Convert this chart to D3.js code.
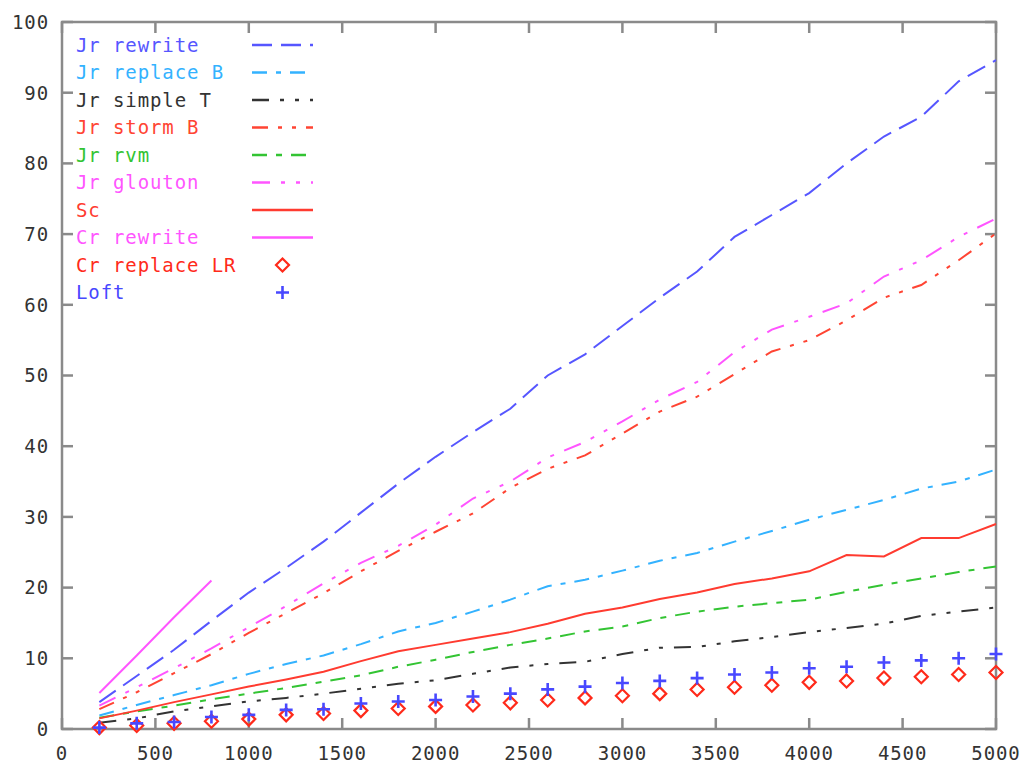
<!DOCTYPE html>
<html>
<head>
<meta charset="utf-8">
<script src="https://cdn.jsdelivr.net/npm/d3@7"></script>
<style>
  body { margin: 0; background: #fff; }
  svg text { font-family: "DejaVu Sans Mono", monospace; font-size: 19px; letter-spacing: 0.9px; }
</style>
</head>
<body>
<svg id="chart" width="1026" height="765"></svg>
<script>
// x values (same for every series except Cr rewrite)
const sizes = [200,400,600,800,1000,1200,1400,1600,1800,2000,2200,2400,2600,2800,3000,3200,3400,3600,3800,4000,4200,4400,4600,4800,5000];
const crSizes = [200,400,600,800];

const jrRewrite  = [3.8,7.5,11.2,15.3,19.3,22.8,26.5,30.6,34.7,38.5,42.0,45.3,50.0,53.0,57.0,61.0,64.7,69.6,72.7,75.8,80.0,83.8,86.6,91.6,94.6];
const jrReplaceB = [1.9,3.4,4.8,6.2,7.8,9.2,10.4,12.0,13.8,15.0,16.6,18.3,20.2,21.1,22.4,23.8,24.9,26.5,28.0,29.6,31.0,32.4,34.0,35.0,36.7];
const jrSimpleT  = [0.9,1.5,2.5,3.2,3.9,4.4,5.0,5.7,6.4,6.9,7.8,8.7,9.2,9.5,10.6,11.5,11.6,12.4,13.0,13.7,14.3,14.9,16.0,16.6,17.2];
const jrStormB   = [2.8,5.2,7.9,10.6,13.6,16.4,19.2,22.3,25.2,27.9,30.5,34.1,36.8,38.7,41.8,44.9,47.0,50.2,53.4,55.0,57.8,61.0,62.8,66.3,70.1];
const jrRvm      = [1.6,2.5,3.3,4.2,5.0,5.8,6.7,7.6,8.8,9.8,10.9,11.9,12.8,13.8,14.5,15.7,16.6,17.3,17.8,18.3,19.4,20.4,21.3,22.2,23.0];
const jrGlouton  = [3.3,5.9,8.6,11.4,14.4,17.4,20.6,23.5,25.9,28.9,32.6,35.0,38.4,40.6,43.5,46.6,49.1,53.3,56.5,58.3,60.2,64.0,66.3,69.6,72.2];
const sc         = [1.5,2.6,3.8,4.9,6.0,7.0,8.1,9.6,11.0,11.9,12.8,13.7,14.9,16.3,17.2,18.4,19.3,20.5,21.3,22.3,24.6,24.4,27.0,27.0,29.0];
const crRewrite  = [5.1,10.4,15.8,21.0];
const crReplaceLR = [0.2,0.5,0.8,1.1,1.4,2.0,2.2,2.6,2.9,3.2,3.4,3.7,4.1,4.4,4.7,5.0,5.6,5.9,6.2,6.6,6.8,7.2,7.4,7.7,8.0];
const loft       = [0.2,0.8,1.0,1.7,2.0,2.7,2.8,3.6,3.9,4.1,4.6,5.0,5.6,6.0,6.5,6.8,7.2,7.7,8.0,8.6,8.8,9.4,9.7,10.0,10.6];

const xTicks = [0,500,1000,1500,2000,2500,3000,3500,4000,4500,5000];
const yTicks = [0,10,20,30,40,50,60,70,80,90,100];

const lineSeries = [
  {name: "Jr rewrite",   xs: sizes,   ys: jrRewrite,  color: "#5656ff", dash: "20,9"},
  {name: "Jr replace B", xs: sizes,   ys: jrReplaceB, color: "#33b2ff", dash: "15,9,5,9"},
  {name: "Jr simple T",  xs: sizes,   ys: jrSimpleT,  color: "#333333", dash: "17,11,4,11,4,11"},
  {name: "Jr storm B",   xs: sizes,   ys: jrStormB,   color: "#ff4433", dash: "16,10,4,10,4,10"},
  {name: "Jr rvm",       xs: sizes,   ys: jrRvm,      color: "#33c433", dash: "15,9,6,9"},
  {name: "Jr glouton",   xs: sizes,   ys: jrGlouton,  color: "#ff55ff", dash: "18,11,4,11,4,11"},
  {name: "Sc",           xs: sizes,   ys: sc,         color: "#ff3b30", dash: null},
  {name: "Cr rewrite",   xs: crSizes, ys: crRewrite,  color: "#ff55ff", dash: null}
];
const pointSeries = [
  {name: "Cr replace LR", xs: sizes, ys: crReplaceLR, color: "#ff2a1a", shape: "diamond"},
  {name: "Loft",          xs: sizes, ys: loft,        color: "#4848ff", shape: "plus"}
];

const svg = d3.select("#chart");
const plotL = 62, plotR = 996, plotT = 22, plotB = 729;

const x = d3.scaleLinear().domain([0, 5000]).range([plotL, plotR]);
const y = d3.scaleLinear().domain([0, 100]).range([plotB, plotT]);

const axisColor = "#8a8a8a";
const tickLen = 11;

// ticks (mirrored on all four sides)
const tk = svg.append("g").attr("stroke", axisColor).attr("stroke-width", 2.5);
xTicks.forEach(t => {
  tk.append("line").attr("x1", x(t)).attr("x2", x(t)).attr("y1", plotB).attr("y2", plotB - tickLen);
  tk.append("line").attr("x1", x(t)).attr("x2", x(t)).attr("y1", plotT).attr("y2", plotT + tickLen);
});
yTicks.forEach(t => {
  tk.append("line").attr("x1", plotL).attr("x2", plotL + tickLen).attr("y1", y(t)).attr("y2", y(t));
  tk.append("line").attr("x1", plotR).attr("x2", plotR - tickLen).attr("y1", y(t)).attr("y2", y(t));
});

svg.append("rect")
  .attr("x", plotL).attr("y", plotT)
  .attr("width", plotR - plotL).attr("height", plotB - plotT)
  .attr("fill", "none").attr("stroke", axisColor).attr("stroke-width", 2.5);

// tick labels
svg.append("g").selectAll("text").data(xTicks).join("text")
  .attr("x", d => x(d)).attr("y", plotB + 31)
  .attr("text-anchor", "middle").attr("fill", "#333")
  .text(d => d);
svg.append("g").selectAll("text").data(yTicks).join("text")
  .attr("x", plotL - 13).attr("y", d => y(d)).attr("dy", "0.36em")
  .attr("text-anchor", "end").attr("fill", "#333")
  .text(d => d);

// lines
const line = d3.line().x(d => x(d[0])).y(d => y(d[1]));
lineSeries.forEach(s => {
  svg.append("path")
    .datum(s.xs.map((v, i) => [v, s.ys[i]]))
    .attr("d", line)
    .attr("fill", "none")
    .attr("stroke", s.color)
    .attr("stroke-width", 2)
    .attr("stroke-dasharray", s.dash);
});

// point markers
function marker(g, cx, cy, shape, color) {
  const r = 6.5;
  if (shape === "diamond") {
    g.append("path")
      .attr("d", `M${cx},${cy - r}L${cx + r},${cy}L${cx},${cy + r}L${cx - r},${cy}Z`)
      .attr("fill", "none").attr("stroke", color).attr("stroke-width", 2.2);
  } else {
    g.append("path")
      .attr("d", `M${cx - r},${cy}H${cx + r}M${cx},${cy - r}V${cy + r}`)
      .attr("fill", "none").attr("stroke", color).attr("stroke-width", 2.6);
  }
}
pointSeries.forEach(s => {
  const g = svg.append("g");
  s.xs.forEach((v, i) => marker(g, x(v), y(s.ys[i]), s.shape, s.color));
});

// legend
const legTop = 45, legStep = 27.5, legText = 76, legX1 = 252, legX2 = 313;
const legendItems = lineSeries.concat(pointSeries);
legendItems.forEach((s, i) => {
  const ly = legTop + i * legStep;
  svg.append("text")
    .attr("x", legText).attr("y", ly).attr("dy", "0.36em")
    .attr("fill", s.color)
    .text(s.name);
  if (s.shape) {
    marker(svg, (legX1 + legX2) / 2, ly, s.shape, s.color);
  } else {
    svg.append("line")
      .attr("x1", legX1).attr("x2", legX2).attr("y1", ly).attr("y2", ly)
      .attr("stroke", s.color).attr("stroke-width", 2.5)
      .attr("stroke-dasharray", s.dash);
  }
});
</script>
</body>
</html>
